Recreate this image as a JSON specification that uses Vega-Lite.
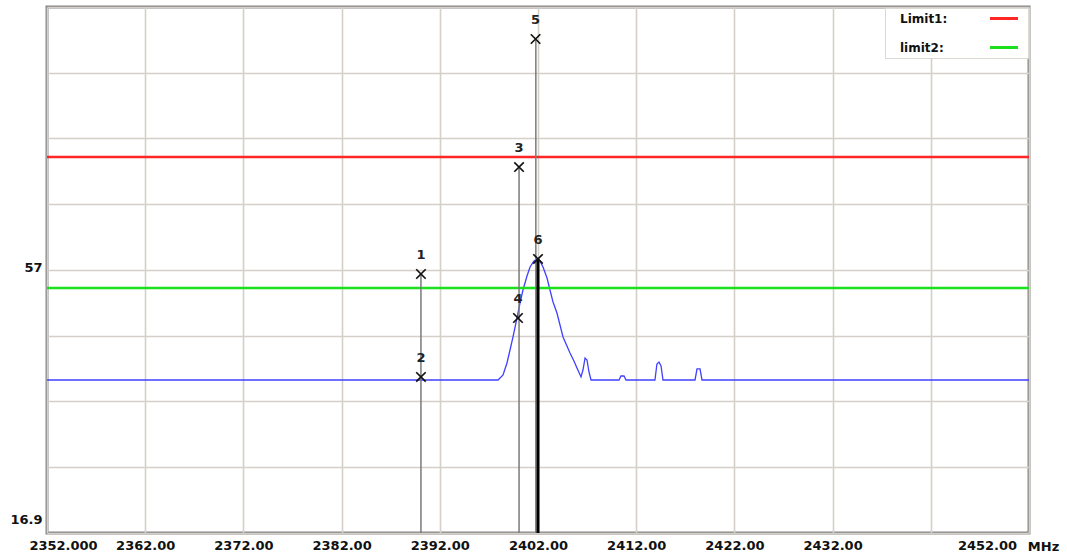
{
  "$schema": "https://vega.github.io/schema/vega-lite/v6.json",
  "width": 982,
  "height": 526,
  "autosize": {"type": "none"},
  "padding": {"left": 47, "top": 7, "right": 38, "bottom": 21},
  "background": "white",
  "config": {
    "view": {"stroke": "#858585", "strokeWidth": 3},
    "font": "DejaVu Sans"
  },
  "datasets": {
    "trace": [
      {"f": 2352.0, "v": 40.23},
      {"f": 2397.93, "v": 40.23},
      {"f": 2398.44, "v": 40.99},
      {"f": 2398.84, "v": 42.82},
      {"f": 2399.15, "v": 44.8},
      {"f": 2399.45, "v": 46.78},
      {"f": 2399.86, "v": 49.68},
      {"f": 2400.17, "v": 51.97},
      {"f": 2400.47, "v": 53.95},
      {"f": 2400.88, "v": 56.08},
      {"f": 2401.19, "v": 57.46},
      {"f": 2401.59, "v": 58.37},
      {"f": 2401.9, "v": 58.68},
      {"f": 2402.2, "v": 58.37},
      {"f": 2402.51, "v": 57.46},
      {"f": 2402.92, "v": 55.78},
      {"f": 2403.22, "v": 53.95},
      {"f": 2403.53, "v": 52.12},
      {"f": 2403.93, "v": 50.44},
      {"f": 2404.24, "v": 48.61},
      {"f": 2404.55, "v": 46.78},
      {"f": 2404.95, "v": 45.41},
      {"f": 2405.26, "v": 44.34},
      {"f": 2405.66, "v": 43.12},
      {"f": 2405.97, "v": 42.06},
      {"f": 2406.38, "v": 40.69},
      {"f": 2406.58, "v": 41.75},
      {"f": 2406.79, "v": 43.58},
      {"f": 2406.99, "v": 43.28},
      {"f": 2407.19, "v": 41.45},
      {"f": 2407.4, "v": 40.23},
      {"f": 2410.25, "v": 40.23},
      {"f": 2410.45, "v": 40.84},
      {"f": 2410.76, "v": 40.84},
      {"f": 2410.96, "v": 40.23},
      {"f": 2413.91, "v": 40.23},
      {"f": 2414.11, "v": 42.67},
      {"f": 2414.32, "v": 42.97},
      {"f": 2414.53, "v": 42.36},
      {"f": 2414.73, "v": 40.23},
      {"f": 2417.99, "v": 40.23},
      {"f": 2418.19, "v": 41.91},
      {"f": 2418.5, "v": 41.91},
      {"f": 2418.7, "v": 40.23},
      {"f": 2452.0, "v": 40.23}
    ],
    "limits": [
      {"name": "Limit1:", "v": 74.23},
      {"name": "limit2:", "v": 54.25}
    ],
    "vlines": [
      {"f": 2390.08, "v": 56.39, "kind": "gray"},
      {"f": 2400.07, "v": 72.7, "kind": "gray"},
      {"f": 2401.78, "v": 92.22, "kind": "gray"},
      {"f": 2402.0, "v": 58.68, "kind": "black"}
    ],
    "markers": [
      {"id": "1", "f": 2390.08, "v": 56.39},
      {"id": "2", "f": 2390.08, "v": 40.69},
      {"id": "3", "f": 2400.07, "v": 72.7},
      {"id": "4", "f": 2399.96, "v": 49.68},
      {"id": "5", "f": 2401.75, "v": 92.22},
      {"id": "6", "f": 2402.0, "v": 58.68}
    ]
  },
  "layer": [
    {
      "data": {"name": "trace"},
      "mark": {"type": "line", "color": "#4040ff", "strokeWidth": 1.3, "clip": true},
      "encoding": {
        "x": {
          "field": "f",
          "type": "quantitative",
          "scale": {"domain": [2352, 2452], "nice": false, "zero": false},
          "axis": {
            "values": [2352, 2362, 2372, 2382, 2392, 2402, 2412, 2422, 2432, 2442, 2452],
            "grid": true,
            "gridColor": "#d4d0c8",
            "gridWidth": 1.6,
            "domain": false,
            "ticks": false,
            "labelFlush": false,
            "labelOverlap": false,
            "labelBound": false,
            "labelExpr": "datum.value == 2352 ? '2352.000' : datum.value == 2442 ? '' : format(datum.value, '.2f')",
            "labelFont": "DejaVu Sans",
            "labelFontSize": 13,
            "labelFontWeight": "bold",
            "labelColor": "#111111",
            "labelPadding": 6,
            "labelBaseline": "top",
            "labelOffset": {"condition": [{"test": "datum.value == 2352", "value": 16}, {"test": "datum.value == 2452", "value": -42}], "value": 0},
            "title": "MHz",
            "titleFont": "DejaVu Sans",
            "titleFontSize": 13,
            "titleFontWeight": "bold",
            "titleColor": "#111111",
            "titleX": 996,
            "titleY": 7,
            "titleAlign": "center",
            "titleBaseline": "top"
          }
        },
        "y": {
          "field": "v",
          "type": "quantitative",
          "scale": {"domain": [16.9, 97.1], "nice": false, "zero": false},
          "axis": {
            "values": [16.9, 26.925, 36.95, 46.975, 57, 67.025, 77.05, 87.075, 97.1],
            "grid": true,
            "gridColor": "#d4d0c8",
            "gridWidth": 1.6,
            "domain": false,
            "ticks": false,
            "labelFlush": false,
            "labelOverlap": false,
            "labelBound": false,
            "labelExpr": "datum.value == 57 ? '57' : datum.value == 16.9 ? '16.9' : ''",
            "labelFont": "DejaVu Sans",
            "labelFontSize": 13,
            "labelFontWeight": "bold",
            "labelColor": "#111111",
            "labelPadding": 5,
            "labelBaseline": "alphabetic",
            "labelOffset": {"condition": {"test": "datum.value == 16.9", "value": -10}, "value": 1},
            "title": null
          }
        }
      }
    },
    {
      "data": {"name": "limits"},
      "mark": {"type": "rule", "strokeWidth": 2.4},
      "encoding": {
        "y": {"field": "v", "type": "quantitative"},
        "color": {
          "field": "name",
          "type": "nominal",
          "scale": {"domain": ["Limit1:", "limit2:"], "range": ["#ff2626", "#1de01d"]},
          "legend": {
            "title": null,
            "orient": "none",
            "legendX": 838,
            "legendY": 1,
            "fillColor": "white",
            "strokeColor": "#dcd9d2",
            "padding": 4,
            "symbolType": "M-2.8,0L2.8,0",
            "symbolSize": 100,
            "symbolStrokeWidth": 3,
            "labelFont": "DejaVu Sans",
            "labelFontSize": 12,
            "labelFontWeight": "bold",
            "labelColor": "#111111",
            "rowPadding": 16,
            "encode": {
              "symbols": {"update": {"x": {"value": 115}}},
              "labels": {"update": {"x": {"value": 11}, "align": {"value": "left"}}}
            }
          }
        }
      }
    },
    {
      "data": {"name": "vlines"},
      "transform": [{"filter": "datum.kind == 'gray'"}],
      "mark": {"type": "rule", "color": "#7a7a7a", "strokeWidth": 1.5},
      "encoding": {
        "x": {"field": "f", "type": "quantitative"},
        "y": {"field": "v", "type": "quantitative"},
        "y2": {"datum": 16.9}
      }
    },
    {
      "data": {"name": "vlines"},
      "transform": [{"filter": "datum.kind == 'black'"}],
      "mark": {"type": "rule", "color": "#000000", "strokeWidth": 3},
      "encoding": {
        "x": {"field": "f", "type": "quantitative"},
        "y": {"field": "v", "type": "quantitative"},
        "y2": {"datum": 16.9}
      }
    },
    {
      "data": {"name": "markers"},
      "mark": {"type": "point", "shape": "M-1,-1L1,1M-1,1L1,-1", "filled": false, "stroke": "#111111", "strokeWidth": 1.7, "size": 90, "opacity": 1},
      "encoding": {
        "x": {"field": "f", "type": "quantitative"},
        "y": {"field": "v", "type": "quantitative"}
      }
    },
    {
      "data": {"name": "markers"},
      "mark": {"type": "text", "dy": -19, "align": "center", "baseline": "middle", "font": "DejaVu Sans", "fontSize": 13, "fontWeight": "bold", "color": "#222222"},
      "encoding": {
        "x": {"field": "f", "type": "quantitative"},
        "y": {"field": "v", "type": "quantitative"},
        "text": {"field": "id", "type": "nominal"}
      }
    }
  ]
}
